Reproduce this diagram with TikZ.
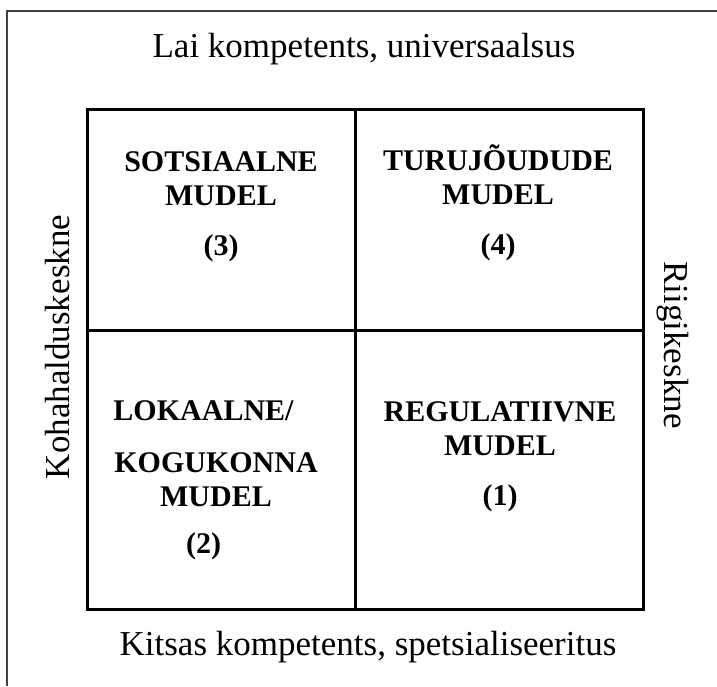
\documentclass[tikz,border=0pt]{standalone}
\usepackage{fontspec}
\setmainfont{Liberation Serif}
\tikzstyle{cell} = [anchor=base, align=center, font={\fontsize{12pt}{13.6pt}\selectfont\bfseries}]
\tikzstyle{axis} = [anchor=base, font={\fontsize{14pt}{16pt}\selectfont}]
\tikzstyle{gridline} = [line width=1.2pt]

\begin{document}
\begin{tikzpicture}[x=0.4pt, y=-0.4pt]
    \useasboundingbox (0,0) rectangle (717,686);
    % Outer frame
    \draw [line width=0.9pt, black!75] (7,686) -- (7,11) -- (717,11);
    % Four fields
    \draw [gridline] (87,109) rectangle (643,609);
    \draw [gridline] (355,109) -- (355,609);
    \draw [gridline] (87,330) -- (643,330);

    \node [axis] (lai) at (364,58) {Lai kompetents, universaalsus};
    \node [axis] (kitsas) at (368,655) {Kitsas kompetents, spetsialiseeritus};
    \node [axis, rotate=90] (koha) at (69,347) {Kohahalduskeskne};
    \node [axis, rotate=-90] (riik) at (664,345) {Riigikeskne};

    % base = baseline of the last line
    \node [cell] (sots) at (221,255) {SOTSIAALNE\\ MUDEL\\[6.4pt] (3)};
    \node [cell] (turu) at (498,254) {TURUJÕUDUDE\\ MUDEL\\[6.4pt] (4)};
    \node [cell] (loka) at (216,553) {LOKAALNE/\hspace*{10pt}\\[7.2pt] KOGUKONNA\\ MUDEL\\[5.2pt] (2)\hspace*{10pt}};
    \node [cell] (regu) at (500,505) {REGULATIIVNE\\ MUDEL\\[6.4pt] (1)};
\end{tikzpicture}
\end{document}
